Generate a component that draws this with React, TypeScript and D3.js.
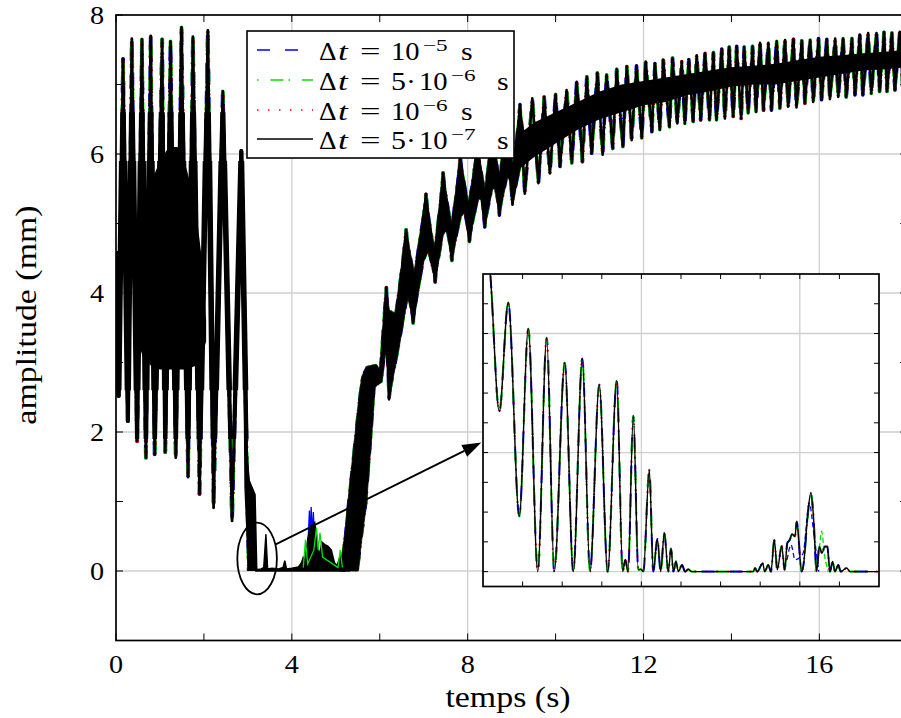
import React from 'react';
import * as d3 from 'd3';

// ---------------- axis ticks ----------------
const xTicks = [0, 2, 4, 6, 8, 10, 12, 14, 16, 18];
const xLabels = [0, 4, 8, 12, 16];
const yTicks = [-1, 0, 1, 2, 3, 4, 5, 6, 7, 8];
const yLabels = [0, 2, 4, 6, 8];

// ---------------- legend ----------------
const legendMantissa = ['', '5', '', '5'];
const legendExponent = ['\u22125', '\u22126', '\u22126', '\u22127'];
const seriesColors = ['#0000ff', '#00e000', '#ff0000', '#000000'];
const seriesDash = ['13,15', '1.5,12,13,5', '1.5,9.5', ''];

// ---------------- main signal ----------------
// region A: large oscillation before the drop (alternating trough / peak)
const burstT = [0, 0.06, 0.16, 0.27, 0.36, 0.48, 0.59, 0.68, 0.79, 0.88, 1.05, 1.12, 1.24, 1.36, 1.49, 1.64, 1.75, 1.9, 2.09, 2.22, 2.43, 2.64, 2.85, 3.02];
const burstV = [4.6, 2.52, 7.37, 2.16, 7.66, 1.87, 7.65, 1.63, 7.7, 1.68, 7.65, 1.71, 7.62, 1.63, 7.82, 1.35, 7.69, 1.11, 7.78, 0.91, 6.9, 0.72, 6.04, 0.0];
// dense core of region A
const coreAT = [0.45, 0.6, 0.8, 1.0, 1.2, 1.4, 1.6, 1.8, 1.95, 2.05];
const coreAHi = [3.6, 4.8, 5.6, 5.9, 6.1, 6.1, 5.8, 5.3, 4.5, 3.6];
const coreALo = [3.4, 3.1, 2.95, 2.9, 2.9, 2.9, 2.9, 2.95, 3.1, 3.3];
// the drop to zero
const dropT = [2.86, 2.92, 3.0, 3.05, 3.18, 3.22];
const dropHi = [6.0, 4.0, 1.6, 1.3, 1.1, 0.0];
const dropLo = [5.5, 1.2, 0.0, 0.0, 0.0, 0.0];
// region B: near-zero phase
const lowT = [3.18, 3.3, 3.36, 3.41, 3.45, 3.55, 3.7, 3.8, 3.84, 3.88, 4.0, 4.15, 4.22, 4.26, 4.3, 4.36, 4.41, 4.46, 4.52, 4.58, 4.63, 4.68, 4.75, 4.82, 4.9, 4.97, 5.03, 5.1, 5.15, 5.2];
const lowV = [0.02, 0.03, 0.05, 0.53, 0.03, 0.04, 0.03, 0.05, 0.15, 0.03, 0.04, 0.06, 0.12, 0.2, 0.18, 0.45, 0.6, 0.66, 0.7, 0.45, 0.2, 0.42, 0.38, 0.36, 0.3, 0.12, 0.08, 0.22, 0.1, 0.15];
const blueLowT = [4.36, 4.4, 4.42, 4.44, 4.47, 4.49, 4.52, 4.55];
const blueLowV = [0.3, 0.87, 0.4, 0.92, 0.5, 0.85, 0.3, 0.2];
const greenLowT = [4.26, 4.31, 4.36, 4.5, 4.56, 4.6, 4.64, 4.7, 5.05, 5.1, 5.15];
const greenLowV = [0.05, 0.45, 0.1, 0.3, 0.62, 0.3, 0.55, 0.2, 0.05, 0.3, 0.05];
// region C (growth): upper and lower edges of the thick oscillating band
const riseUpT = [5.1, 5.2, 5.27, 5.44, 5.51, 5.59, 5.7, 5.92, 6.02, 6.15, 6.22, 6.35, 6.6, 6.78, 7.05, 7.24, 7.44, 7.63, 7.83, 8.02, 8.22, 8.39, 8.55, 8.72, 8.88, 9.02, 9.19, 9.3];
const riseUpV = [0.05, 0.5, 0.97, 1.98, 2.41, 2.8, 2.94, 2.97, 2.87, 4.08, 3.75, 3.71, 4.91, 4.3, 5.42, 4.65, 5.73, 5.0, 5.96, 5.3, 6.15, 5.5, 6.35, 5.7, 6.55, 5.85, 6.71, 6.2];
const riseLoT = [5.1, 5.51, 5.59, 5.7, 5.82, 5.89, 6.05, 6.14, 6.21, 6.45, 6.64, 6.76, 7.0, 7.1, 7.26, 7.45, 7.52, 7.64, 7.85, 7.92, 8.04, 8.24, 8.3, 8.39, 8.57, 8.62, 8.72, 8.9, 8.95, 9.02, 9.2, 9.3];
const riseLoV = [0, 0.0, 0.45, 0.97, 1.98, 2.65, 2.72, 3.2, 2.47, 3.25, 3.95, 3.57, 4.45, 4.6, 4.16, 4.85, 4.9, 4.47, 5.1, 5.15, 4.74, 5.35, 5.35, 4.95, 5.5, 5.5, 5.12, 5.65, 5.65, 5.27, 5.8, 5.9];
// region C (saturation): dense core band
const coreCT = [9.2, 9.5, 10.0, 10.5, 11.0, 11.5, 12.0, 12.5, 13.0, 13.5, 14.0, 14.5, 15.0, 15.5, 16.0, 16.5, 17.0, 17.5, 18.0];
const coreCHi = [6.3, 6.45, 6.6, 6.75, 6.9, 7.0, 7.05, 7.1, 7.15, 7.2, 7.25, 7.27, 7.3, 7.35, 7.4, 7.42, 7.45, 7.47, 7.5];
const coreCLo = [5.8, 5.95, 6.15, 6.35, 6.5, 6.6, 6.7, 6.75, 6.85, 6.9, 6.97, 7.0, 7.0, 7.05, 7.1, 7.15, 7.2, 7.22, 7.25];
// region C: oscillation peaks and troughs
const peakT = [5.92, 6.15, 6.6, 7.05, 7.44, 7.83, 8.22, 8.55, 8.88, 9.19, 9.47, 9.74, 10.0, 10.25, 10.48, 10.71, 10.95, 11.16, 11.39, 11.62, 11.84, 12.05, 12.26, 12.45, 12.66, 12.87, 13.03, 13.21, 13.4, 13.59, 13.78, 13.95, 14.12, 14.29, 14.48, 14.65, 14.84, 15.03, 15.22, 15.41, 15.6, 15.79, 15.98, 16.17, 16.36, 16.54, 16.74, 16.92, 17.11, 17.3, 17.47, 17.65, 17.83];
const peakV = [2.95, 4.08, 4.91, 5.42, 5.73, 5.96, 6.15, 6.35, 6.55, 6.71, 6.8, 6.82, 6.86, 6.92, 7.04, 7.11, 7.17, 7.14, 7.22, 7.26, 7.27, 7.33, 7.3, 7.35, 7.38, 7.33, 7.36, 7.42, 7.45, 7.46, 7.51, 7.54, 7.55, 7.54, 7.55, 7.6, 7.6, 7.62, 7.64, 7.65, 7.63, 7.64, 7.66, 7.65, 7.66, 7.66, 7.66, 7.71, 7.74, 7.74, 7.75, 7.74, 7.76];
const troughT = [6.0, 6.21, 6.76, 7.26, 7.64, 8.04, 8.39, 8.72, 9.02, 9.3, 9.61, 9.87, 10.1, 10.37, 10.61, 10.82, 11.07, 11.3, 11.53, 11.73, 11.96, 12.19, 12.37, 12.59, 12.77, 12.94, 13.13, 13.3, 13.5, 13.66, 13.85, 14.04, 14.22, 14.38, 14.56, 14.73, 14.91, 15.1, 15.29, 15.48, 15.67, 15.86, 16.05, 16.24, 16.43, 16.61, 16.81, 16.99, 17.18, 17.37, 17.54, 17.72, 17.9];
const troughV = [2.72, 2.47, 3.57, 4.16, 4.47, 4.74, 4.95, 5.12, 5.27, 5.43, 5.58, 5.72, 5.82, 5.87, 5.89, 6.01, 5.99, 6.08, 6.11, 6.2, 6.23, 6.32, 6.35, 6.39, 6.44, 6.44, 6.47, 6.49, 6.49, 6.49, 6.51, 6.54, 6.51, 6.59, 6.61, 6.63, 6.63, 6.66, 6.68, 6.67, 6.73, 6.75, 6.78, 6.79, 6.82, 6.82, 6.85, 6.85, 6.87, 6.9, 6.9, 6.92, 6.92];

// ---------------- zoom (inset) ----------------
const insetT = [3.0004, 3.0067, 3.0206, 3.0319, 3.0458, 3.0572, 3.0691, 3.0804, 3.09, 3.1032, 3.114, 3.1254, 3.1351, 3.1468, 3.1574, 3.1688, 3.1764, 3.1797, 3.1831, 3.1898, 3.1961, 3.1991, 3.2024, 3.21, 3.215, 3.2201, 3.2244, 3.2289, 3.234, 3.2374, 3.2403, 3.2437, 3.2466, 3.2513, 3.2551, 3.2592, 3.2635, 3.3413, 3.3434, 3.3463, 3.3531, 3.3557, 3.3602, 3.3636, 3.3678, 3.3716, 3.3771, 3.3809, 3.3842, 3.3872, 3.3902, 3.3939, 3.3961, 3.4024, 3.4049, 3.4095, 3.4138, 3.417, 3.4213, 3.4246, 3.428, 3.4314, 3.4347, 3.4381, 3.4415, 3.4444, 3.4486, 3.4516, 3.4592, 3.4634, 3.4991];
const insetV = [0.502, 0.522, 0.269, 0.452, 0.093, 0.408, 0, 0.393, 0, 0.351, 0, 0.358, 0, 0.314, 0, 0.321, 0, 0.02, 0, 0.262, 0.003, 0.004, 0, 0.171, 0, 0.055, 0, 0.065, 0, 0.039, 0, 0.017, 0, 0.011, 0, 0.004, 0, 0, 0.006, 0, 0.014, 0, 0.011, 0, 0.053, 0.003, 0.043, 0.003, 0.048, 0.053, 0.063, 0.059, 0.084, 0, 0.014, 0.087, 0.132, 0.098, 0, 0.042, 0.031, 0.042, 0.042, 0, 0.017, 0, 0.011, 0, 0.006, 0, 0];
const insetBlueT = [3.384, 3.389, 3.394, 3.404, 3.412, 3.418, 3.424];
const insetBlueV = [0.02, 0.045, 0.02, 0.03, 0.115, 0.06, 0.0];
const insetGreenT = [3.419, 3.424, 3.4276, 3.431, 3.436];
const insetGreenV = [0.0, 0.03, 0.068, 0.03, 0.0];
const insetXTicks = [3.05, 3.1, 3.15, 3.2, 3.25, 3.3, 3.35, 3.4, 3.45];
const insetXGrid = [3.2, 3.4];
const insetYTicks = [0, 0.05, 0.1, 0.15, 0.2, 0.25, 0.3, 0.35, 0.4, 0.45];
const insetYGrid = [0, 0.2, 0.4];

// annotation (data coordinates of the main axes)
const markCenter = [3.21, 0.18];
const markRadius = [0.45, 0.515];
const arrowFrom = [3.62, 0.38];
const arrowTo = [8.31, 1.85];

type P = [number, number];
const pts = (ts: number[], vs: number[]): P[] => ts.map((t, i) => [t, vs[i]] as P);

const SERIF = "'Liberation Serif', 'Times New Roman', serif";
const SX = 1.13; // horizontal stretch of the reference lettering

function Txt(props: { x: number; y: number; size: number; anchor?: string; rotate?: number; sx?: number; italic?: boolean; children: React.ReactNode }) {
  const { x, y, size, anchor, rotate, sx, italic, children } = props;
  const tr = `translate(${x},${y})` + (rotate ? ` rotate(${rotate})` : '') + ` scale(${sx ?? SX},1)`;
  return (
    <text transform={tr} fontSize={size} textAnchor={anchor || 'start'} fontStyle={italic ? 'italic' : 'normal'} style={{ fontFamily: SERIF }} fill="#000">
      {children}
    </text>
  );
}

export default function App() {
  const x = d3.scaleLinear().domain([0, 18]).range([116, 116 + 18 * 43.96]);
  const y = d3.scaleLinear().domain([-1, 8]).range([640.5, 15]);
  const [L, R] = x.range();
  const [B, T] = y.range();

  const line = d3.line<P>().x((d) => x(d[0])).y((d) => y(d[1]));
  const band = (ts: number[], lo: number[], hi: number[]) =>
    d3.area<number>().x((i) => x(ts[i])).y0((i) => y(lo[i])).y1((i) => y(hi[i]))(d3.range(ts.length)) || '';
  const lowArea = d3.area<P>().x((d) => x(d[0])).y0(y(0)).y1((d) => y(d[1]));

  const burstPath = line(pts(burstT, burstV)) || '';
  const wavePts = [...pts(peakT, peakV), ...pts(troughT, troughV)].sort((a, b) => a[0] - b[0]);
  const wavePath = line(wavePts) || '';
  const risePath = (line([...pts(riseUpT, riseUpV), ...pts(riseLoT, riseLoV).reverse()]) || '') + 'Z';

  // inset scales
  const xi = d3.scaleLinear().domain([3.0, 3.5]).range([483, 879]);
  const yi = d3.scaleLinear().domain([-0.025, 0.5]).range([586.5, 274]);
  const [iL, iR] = xi.range();
  const [iB, iT] = yi.range();
  const iline = d3.line<P>().x((d) => xi(d[0])).y((d) => yi(d[1])).curve(d3.curveMonotoneX);

  const legendRowY = [50, 80, 110, 139];

  // arrow
  const ax0 = x(arrowFrom[0]), ay0 = y(arrowFrom[1]);
  const ax1 = x(arrowTo[0]), ay1 = y(arrowTo[1]);
  const ang = Math.atan2(ay1 - ay0, ax1 - ax0);
  const hl = 19, hw = 6.5;
  const bx = ax1 - hl * Math.cos(ang), by = ay1 - hl * Math.sin(ang);
  const head = `M${ax1},${ay1}L${bx - hw * Math.sin(ang)},${by + hw * Math.cos(ang)}L${bx + hw * Math.sin(ang)},${by - hw * Math.cos(ang)}Z`;

  return (
    <svg width={901} height={718} style={{ position: 'absolute', left: 0, top: 0, background: '#fff' }}>
      <defs>
        <clipPath id="mainClip"><rect x={L} y={T} width={R - L} height={B - T} /></clipPath>
        <clipPath id="wedgeClipA"><rect x={L} y={y(6.6)} width={R - L} height={y(1.9) - y(6.6)} /></clipPath>
        <clipPath id="wedgeClipB"><rect x={L} y={y(5.9)} width={R - L} height={y(2.6) - y(5.9)} /></clipPath>
        <clipPath id="insetClip"><rect x={iL} y={iT} width={iR - iL} height={iB - iT} /></clipPath>
      </defs>
      <rect x={0} y={0} width={901} height={718} fill="#fff" />
      {/* grid */}
      <g stroke="#cfcfcf" strokeWidth={1.3}>
        {xLabels.filter((v) => v > 0).map((v) => <line key={'gx' + v} x1={x(v)} x2={x(v)} y1={B} y2={T} />)}
        {yLabels.filter((v) => v < 8).map((v) => <line key={'gy' + v} x1={L} x2={R} y1={y(v)} y2={y(v)} />)}
      </g>
      {/* data */}
      <g clipPath="url(#mainClip)">
        {[0, 1, 2].map((s) => (
          <g key={'cs' + s} fill="none" stroke={seriesColors[s]} strokeDasharray={seriesDash[s]} strokeLinejoin="round">
            <path d={burstPath} strokeWidth={3.8} />
            <path d={wavePath} strokeWidth={3.6} />
            <path d={risePath} strokeWidth={1.6} />
          </g>
        ))}
        <path d={band(coreAT, coreALo, coreAHi)} fill="#000" />
        <path d={band(dropT, dropLo, dropHi)} fill="#000" />
        <path d={risePath} fill="#000" stroke="#000" strokeWidth={0.8} />
        <path d={band(coreCT, coreCLo, coreCHi)} fill="#000" />
        <path d={burstPath} fill="none" stroke="#000" strokeWidth={2.8} strokeLinejoin="round" />
        <g clipPath="url(#wedgeClipA)">
          <path d={burstPath} fill="none" stroke="#000" strokeWidth={4.2} strokeLinejoin="round" />
        </g>
        <g clipPath="url(#wedgeClipB)">
          <path d={burstPath} fill="none" stroke="#000" strokeWidth={5.6} strokeLinejoin="round" />
        </g>
        <path d={wavePath} fill="none" stroke="#000" strokeWidth={2.6} strokeLinejoin="round" />
        <path d={line(pts(blueLowT, blueLowV)) || ''} fill="none" stroke={seriesColors[0]} strokeWidth={1.3} />
        <path d={lowArea(pts(lowT, lowV)) || ''} fill="#000" stroke="#000" strokeWidth={1.4} />
        <path d={line(pts(greenLowT, greenLowV)) || ''} fill="none" stroke={seriesColors[1]} strokeWidth={1.3} />
      </g>
      {/* legend */}
      <rect x={247} y={31} width={267} height={127} fill="#fff" stroke="#000" strokeWidth={1.6} />
      {legendExponent.map((e, i) => (
        <line key={'ls' + i} x1={257} x2={313} y1={legendRowY[i]} y2={legendRowY[i]} stroke={seriesColors[i]} strokeWidth={1.3} strokeDasharray={seriesDash[i]} />
      ))}
      {legendExponent.map((e, i) => {
        const ty = legendRowY[i] + 10;
        const m = legendMantissa[i] !== '';
        return (
          <g key={'lt' + i}>
            <Txt x={319} y={ty} size={26} sx={1.05}>Δ</Txt>
            <Txt x={338} y={ty} size={26} sx={1.35} italic>t</Txt>
            <Txt x={360} y={ty} size={26} sx={1.4}>=</Txt>
            {m && <Txt x={391} y={ty} size={26} sx={1.15}>{legendMantissa[i]}</Txt>}
            {m && <Txt x={406} y={ty} size={26} sx={1.15}>·</Txt>}
            <Txt x={m ? 419 : 391} y={ty} size={26} sx={1.1}>10</Txt>
            <Txt x={m ? 451 : 423} y={ty - 9.5} size={16} sx={1.45}>{e}</Txt>
            <Txt x={m ? 497 : 461} y={ty} size={26} sx={1.15}>s</Txt>
          </g>
        );
      })}
      {/* annotation */}
      <ellipse cx={x(markCenter[0])} cy={y(markCenter[1])} rx={x(markRadius[0]) - x(0)} ry={y(0) - y(markRadius[1])} fill="none" stroke="#000" strokeWidth={1.8} />
      <line x1={ax0} y1={ay0} x2={bx} y2={by} stroke="#000" strokeWidth={1.9} />
      <path d={head} fill="#000" />
      {/* inset */}
      <rect x={iL} y={iT} width={iR - iL} height={iB - iT} fill="#fff" />
      <g stroke="#cfcfcf" strokeWidth={1.3}>
        {insetXGrid.map((v) => <line key={'igx' + v} x1={xi(v)} x2={xi(v)} y1={iB} y2={iT} />)}
        {insetYGrid.map((v) => <line key={'igy' + v} x1={iL} x2={iR} y1={yi(v)} y2={yi(v)} />)}
      </g>
      <g clipPath="url(#insetClip)" fill="none">
        {[0, 1, 2].map((s) => (
          <path key={'ic' + s} d={iline(pts(insetT, insetV)) || ''} stroke={seriesColors[s]} strokeWidth={2} strokeDasharray={seriesDash[s]} />
        ))}
        <path d={iline(pts(insetBlueT, insetBlueV)) || ''} stroke={seriesColors[0]} strokeWidth={1.3} strokeDasharray="5,3" />
        <path d={iline(pts(insetGreenT, insetGreenV)) || ''} stroke={seriesColors[1]} strokeWidth={1.3} strokeDasharray="5,3" />
        <path d={iline(pts(insetT, insetV)) || ''} stroke="#000" strokeWidth={1.4} />
      </g>
      <g stroke="#000" strokeWidth={1}>
        {insetXTicks.map((v) => (
          <g key={'ixt' + v}>
            <line x1={xi(v)} x2={xi(v)} y1={iB} y2={iB - 5} />
            <line x1={xi(v)} x2={xi(v)} y1={iT} y2={iT + 5} />
          </g>
        ))}
        {insetYTicks.map((v) => (
          <g key={'iyt' + v}>
            <line x1={iL} x2={iL + 5} y1={yi(v)} y2={yi(v)} />
            <line x1={iR} x2={iR - 5} y1={yi(v)} y2={yi(v)} />
          </g>
        ))}
      </g>
      <rect x={iL} y={iT} width={iR - iL} height={iB - iT} fill="none" stroke="#000" strokeWidth={1.7} />
      {/* main ticks and frame */}
      <g stroke="#000" strokeWidth={1}>
        {xTicks.map((v) => (
          <g key={'xt' + v}>
            <line x1={x(v)} x2={x(v)} y1={B} y2={B - 7} />
            <line x1={x(v)} x2={x(v)} y1={T} y2={T + 7} />
          </g>
        ))}
        {yTicks.map((v) => (
          <g key={'yt' + v}>
            <line x1={L} x2={L + 7} y1={y(v)} y2={y(v)} />
            <line x1={R} x2={R - 7} y1={y(v)} y2={y(v)} />
          </g>
        ))}
      </g>
      <rect x={L} y={T} width={R - L} height={B - T} fill="none" stroke="#000" strokeWidth={1.7} />
      {/* tick labels */}
      {xLabels.map((v) => (
        <Txt key={'xl' + v} x={x(v)} y={673} size={25} anchor="middle">{v}</Txt>
      ))}
      {yLabels.map((v) => (
        <Txt key={'yl' + v} x={104} y={y(v) + 8.5} size={25} anchor="end">{v}</Txt>
      ))}
      {/* axis titles */}
      <Txt x={508} y={707} size={30} anchor="middle">temps (s)</Txt>
      <Txt x={36} y={315} size={30} anchor="middle" rotate={-90}>amplitude (mm)</Txt>
    </svg>
  );
}
